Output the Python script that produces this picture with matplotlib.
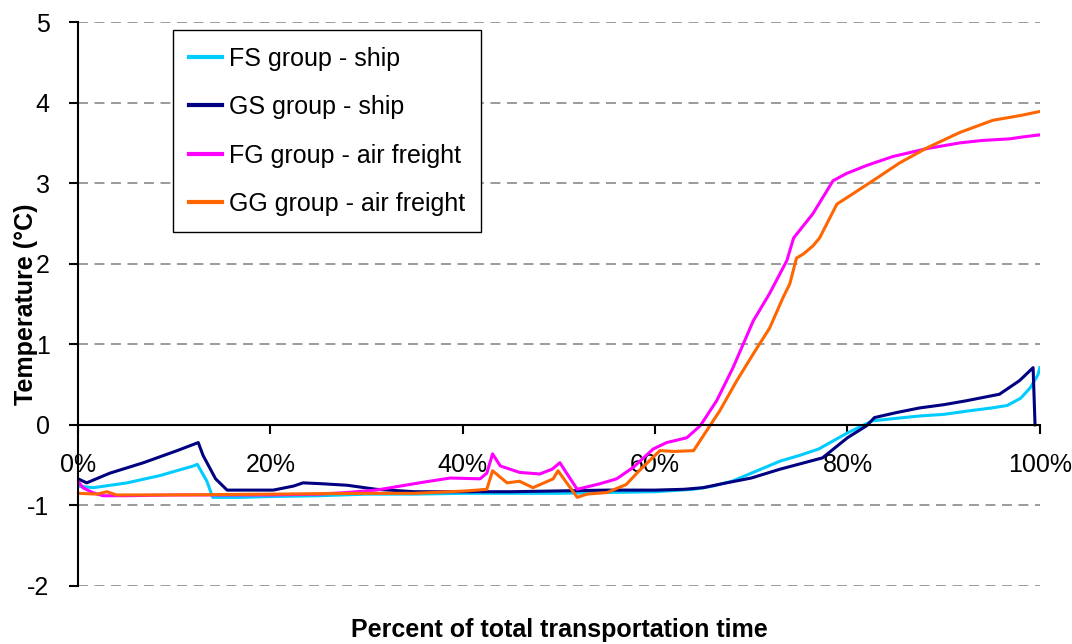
import matplotlib
matplotlib.use("Agg")
from matplotlib import pyplot as plt

plt.rcParams["font.family"] = ["Liberation Sans", "DejaVu Sans"]
plt.rcParams["axes.unicode_minus"] = False

# percent of transport time / temperature readings per group
fs_x = [0, 1.6, 5.1, 8.5, 12, 12.4, 13.4, 14, 17, 20, 25, 30, 35, 40, 45, 50, 55, 60, 64, 66, 68, 70, 73,
        75, 77, 80, 82.6, 85, 87.5, 90, 92.4, 95, 96.6, 98, 99, 99.8, 100]
fs_y = [-0.76, -0.78, -0.72, -0.63, -0.51, -0.49, -0.7, -0.9, -0.9, -0.89, -0.88, -0.86, -0.86, -0.85, -0.85,
        -0.85, -0.84, -0.83, -0.8, -0.76, -0.7, -0.6, -0.45, -0.38, -0.3, -0.1, 0.05, 0.08, 0.11, 0.13, 0.17,
        0.21, 0.24, 0.33, 0.46, 0.62, 0.71]

gs_x = [0, 0.9, 3.3, 6.8, 10.3, 12.5, 13, 14.3, 15.5, 20.3, 22.4, 23.4, 25.2, 28, 31, 35, 40, 45, 50, 55,
        60, 63, 65, 67, 70, 73, 77.4, 80, 82, 82.8, 85, 87.5, 90, 92.4, 95.8, 97.9, 99.3, 99.5]
gs_y = [-0.67, -0.72, -0.6, -0.47, -0.32, -0.22, -0.38, -0.67, -0.81, -0.81, -0.76, -0.72, -0.73, -0.75,
        -0.8, -0.83, -0.83, -0.83, -0.82, -0.81, -0.81, -0.8, -0.78, -0.73, -0.66, -0.55, -0.41, -0.16,
        -0.01, 0.09, 0.15, 0.21, 0.25, 0.3, 0.38, 0.55, 0.71, 0.0]

fg_x = [0, 0.5, 1.5, 2.6, 5, 10, 15, 20, 25, 28, 31, 33.5, 36, 38.7, 41.8, 42.5, 43.1, 43.9, 45.9, 48,
        49.3, 50.1, 50.8, 51.9, 54.3, 56, 57.7, 59.8, 61.2, 63.3, 64.7, 66.4, 68.1, 70.2, 71.9, 73.7, 74.4,
        75, 76.4, 78.5, 79.9, 82, 84.7, 88.3, 91.7, 94, 96.9, 98, 100]
fg_y = [-0.7, -0.78, -0.84, -0.88, -0.88, -0.87, -0.87, -0.87, -0.86, -0.84, -0.81, -0.76, -0.71, -0.66,
        -0.67, -0.6, -0.36, -0.51, -0.59, -0.61, -0.55, -0.47, -0.6, -0.8, -0.73, -0.67, -0.53, -0.3, -0.22,
        -0.16, -0.01, 0.3, 0.71, 1.29, 1.63, 2.04, 2.32, 2.41, 2.62, 3.03, 3.12, 3.22, 3.33, 3.43, 3.5, 3.53,
        3.55, 3.57, 3.6]

gg_x = [0, 2, 3, 4, 10, 20, 30, 35, 40.4, 42.5, 43.1, 44.6, 45.9, 47.3, 49.4, 49.9, 51.9, 52.9, 55, 57,
        58.5, 60.5, 62, 64, 65.7, 66.7, 68.5, 70.2, 71.9, 73.3, 74, 74.7, 75.4, 76.4, 77.1, 78.9, 80.2, 83.4,
        85.4, 88.3, 91.7, 95.1, 98, 100]
gg_y = [-0.85, -0.86, -0.83, -0.87, -0.87, -0.86, -0.85, -0.85, -0.82, -0.8, -0.57, -0.72, -0.7, -0.78,
        -0.67, -0.57, -0.9, -0.86, -0.84, -0.74, -0.55, -0.32, -0.33, -0.32, -0.01, 0.17, 0.55, 0.88, 1.2,
        1.58, 1.75, 2.07, 2.12, 2.22, 2.32, 2.74, 2.84, 3.09, 3.25, 3.44, 3.63, 3.78, 3.84, 3.89]

series = [
    ("FS group - ship", fs_x, fs_y, "#00CCFF"),
    ("GS group - ship", gs_x, gs_y, "#000080"),
    ("FG group - air freight", fg_x, fg_y, "#FF00FF"),
    ("GG group - air freight", gg_x, gg_y, "#FF6600"),
]

fig = plt.figure(figsize=(10.72, 6.44), dpi=100)
ax = fig.add_axes([0.0728, 0.0901, 0.8972, 0.8757])

for name, xs, ys, col in series:
    ax.plot(xs, ys, color=col, linewidth=2.2, label=name, solid_joinstyle="round")

ax.set_xlim(0, 100)
ax.set_ylim(-2, 5)
ax.set_yticks(range(-2, 6))
ax.set_xticks(range(0, 101, 20))
ax.set_xticklabels([f"{v}%" for v in range(0, 101, 20)])

for v in range(-2, 6):
    if v != 0:
        ax.axhline(v, color="#808080", linewidth=1.1, dashes=(6.5, 4.3), zorder=0)

ax.spines["top"].set_visible(False)
ax.spines["right"].set_visible(False)
ax.spines["bottom"].set_position(("data", 0))
ax.spines["bottom"].set_linewidth(1.5)
ax.spines["left"].set_linewidth(1.5)
ax.tick_params(axis="both", direction="out", length=6.5, width=1.5, labelsize=18, pad=14)

fig.text(0.5214, 0.022, "Percent of total transportation time", ha="center", va="center",
         fontsize=18, fontweight="bold")
fig.text(0.024, 0.528, "Temperature (°C)", ha="center", va="center", rotation=90,
         fontsize=18, fontweight="bold")

leg = ax.legend(loc="upper left", bbox_to_anchor=(0.1614, 0.953), bbox_transform=fig.transFigure,
                fontsize=18, frameon=True, fancybox=False, edgecolor="black", framealpha=1,
                handlelength=1.3, handletextpad=0.28, labelspacing=0.98, borderaxespad=0,
                borderpad=0.65)
leg.get_frame().set_linewidth(1.0)
for line in leg.get_lines():
    line.set_linewidth(3)

fig.savefig("out.png", dpi=100)
